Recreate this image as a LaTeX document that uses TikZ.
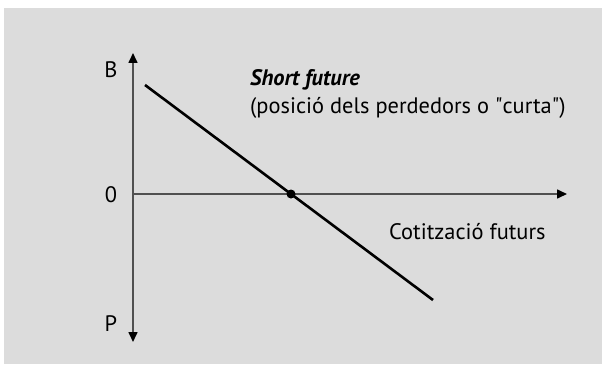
\documentclass[tikz,border=0pt]{standalone}
\usepackage{fontspec}
\setmainfont{PT Sans}
\usetikzlibrary{arrows.meta}
\definecolor{panelgray}{RGB}{220,220,220}
\definecolor{axisgray}{RGB}{80,80,80}
\tikzset{
	axis/.style={draw=axisgray,line width=1.6pt,-{Triangle[width=9pt,length=10pt,color=black]}},
	axislabel/.style={font=\fontsize{22.4}{26}\selectfont,inner sep=0pt},
	payoff/.style={draw=black,line width=2.6pt},
}
\begin{document}
\begin{tikzpicture}[x=1pt,y=-1pt]
			\useasboundingbox (0,0) rectangle (602,369);
			\fill[panelgray] (4,8) rectangle (602,364);
			% eixos
			\coordinate (O) at (133,194);
			\coordinate (ytop) at (133,53);
			\coordinate (ybot) at (133,342);
			\coordinate (xend) at (567,194);
			\draw[axis] (O) -- (ytop);
			\draw[axis] (O) -- (ybot);
			\draw[axis] (O) -- (xend);
			\node[axislabel] (B) at (111,69.5) {B};
			\node[axislabel] (zero) at (111,194.5) {0};
			\node[axislabel] (P) at (111,324) {P};
			% resultat de la posicio curta
			\coordinate (s1) at (145,85);
			\coordinate (s2) at (433,300);
			\draw[payoff] (s1) -- (s2);
			\fill[black] (291,194) circle (4.5pt) coordinate (breakeven);
			\node[axislabel,anchor=base west] (short) at (250,85) {\bfseries\itshape Short future};
			\node[axislabel,anchor=base west] (perd) at (250,113) {(posició dels perdedors o \textquotedbl curta\textquotedbl)};
			\node[axislabel,anchor=base west] (cotit) at (389,239) {Cotització futurs};
		\end{tikzpicture}
\end{document}
